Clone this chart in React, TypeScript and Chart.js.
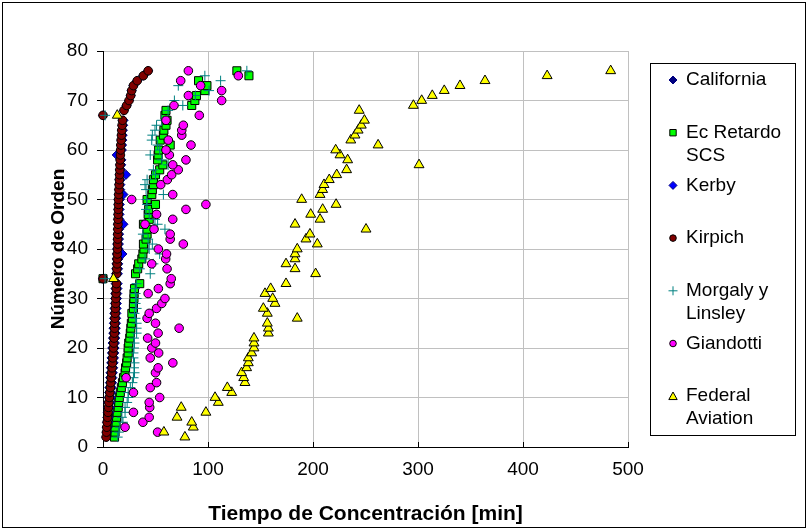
import React, { useEffect, useRef } from "react";
import { Chart, registerables } from "chart.js";

Chart.register(...registerables);

// ---------- DATA ----------
const orden = [
  2, 3, 4, 5, 6, 7, 8, 9, 10, 11, 12, 13, 14, 15, 16, 17, 18, 19, 20, 21, 22, 23, 24, 25, 26,
  27, 28, 29, 30, 31, 32, 33, 34, 35, 36, 37, 38, 39, 40, 41, 42, 43, 44, 45, 46, 47, 48, 49, 50,
  51, 52, 53, 54, 55, 56, 57, 58, 59, 60, 61, 62, 63, 64, 65, 66, 67, 68, 69, 70, 71, 72, 73, 74,
  75, 76,
];

const seriesNames = [
  "California",
  "Ec Retardo SCS",
  "Kerby",
  "Kirpich",
  "Morgaly y Linsley",
  "Giandotti",
  "Federal Aviation",
];

const legendLines = [
  ["California"],
  ["Ec Retardo", "SCS"],
  ["Kerby"],
  ["Kirpich"],
  ["Morgaly y", "Linsley"],
  ["Giandotti"],
  ["Federal", "Aviation"],
];

const xTicks = [0, 100, 200, 300, 400, 500];
const yTicks = [0, 10, 20, 30, 40, 50, 60, 70, 80];

const california = [
  2.5, 2.8, 3.0, 3.3, 3.6, 4.0, 4.3, 4.6, 5.0, 5.3, 5.6, 6.0, 6.3, 6.6, 7.0, 7.3, 7.6, 8.0, 8.3,
  8.6, 9.0, 9.3, 9.5, 9.8, 10.0, 10.3, 10.5, 10.8, 11.0, 11.2, 11.4, 11.6, 0, 11.9, 12.1, 12.3,
  12.5, 12.7, 12.9, 13.0, 13.2, 13.3, 13.5, 13.6, 13.8, 13.9, 14.0, 14.2, 14.3, 14.5, 14.7, 14.9,
  15.1, 15.3, 15.5, 15.7, 15.9, 16.1, 16.3, 16.6, 16.9, 17.2, 17.5, 17.8, 18.2, 0, 19.8, 22.3,
  24.6, 26.2, 27.1, 28.8, 32.4, 38.2, 42.8,
];

const ecRetardo = [
  11, 11.5, 11.5, 12.5, 13, 13.5, 14.5, 15, 15.5, 16.5, 17.5, 18.5, 19.5, 21, 21.5, 22.5, 23, 24,
  24, 24.5, 25.5, 26, 26.5, 27, 28, 27.5, 29, 29, 29.5, 29.5, 30, 35, 0, 31, 33, 34, 37, 38, 39,
  38.5, 41, 42, 42, 38.5, 44, 43, 43.5, 50, 42, 46.5, 47, 48, 48, 50, 54, 57, 52, 52.5, 53, 64,
  54.5, 57.5, 58, 60, 61, 59, 60, 84.5, 87.5, 89, 97, 99, 91, 139, 127.5,
];

const kerby = [
  3.5, 4, 4.5, 5, 5.5, 6, 6.5, 7, 7.5, 8, 8.3, 8.7, 9, 9.4, 9.8, 10.2, 10.5, 10.8, 11.1, 11.4,
  11.7, 12, 12.2, 12.4, 12.6, 12.8, 13, 13.2, 13.4, 13.6, 13.8, 14, 0, 14.2, 14.4, 14.6, 14.8,
  18.5, 15, 15.2, 15.3, 15.4, 15.5, 19.5, 15.7, 15.8, 15.9, 16, 16.1, 19.5, 16.4, 16.6, 16.8, 22,
  17.2, 17.4, 17.6, 13, 18, 18.2, 18.5, 18.8, 19, 19.3, 19.6, 0, 20, 22.5, 24.8, 26.4, 27.3, 29,
  32.6, 38.4, 43,
];

const kirpich = [
  3.0, 3.3, 3.6, 4.0, 4.4, 4.8, 5.2, 5.6, 6.0, 6.5, 7.0, 7.4, 7.8, 8.2, 8.6, 9.0, 9.3, 9.6, 9.9,
  10.2, 10.5, 10.8, 11.0, 11.2, 11.4, 11.6, 11.8, 12.0, 12.2, 12.4, 12.6, 12.8, 0, 13.0, 13.2,
  13.4, 13.5, 13.6, 13.8, 13.9, 14.0, 14.1, 14.2, 14.3, 14.4, 14.5, 14.6, 14.7, 14.8, 15.0, 15.2,
  15.4, 15.6, 15.8, 16.0, 16.2, 16.4, 16.6, 16.8, 17.0, 17.3, 17.6, 17.9, 18.2, 18.6, 0, 20.0,
  22.5, 24.8, 26.4, 27.3, 29.0, 32.6, 38.4, 43.0,
];

const morgaly = [
  14, 15, 16, 19, 18, 21, 21, 23, 24, 24, 26, 28, 29, 30, 29.5, 30, 29, 29, 29.5, 30, 29.5, 32,
  32, 32, 31, 30, 32, 31, 32, 31, 30.5, 32, 2, 45, 35, 48, 40, 54, 44, 47, 43, 38, 59, 52, 49.5,
  44, 41, 42, 41.5, 57.5, 41, 40, 42, 50, 48, 62, 56, 45, 54, 52, 46.4, 47, 49.5, 51, 56, 2, 62,
  76, 68, 88, 101, 71.7, 112, 97, 137,
];

const giandotti = [
  null, 52, 21, 38, 44, 29, 44.5, 44, 54, 29, 45, 51, 22, 50, 52.5, 66.5, 45, 53, 46.5, 50, 42.5,
  52.5, 72.5, 50, 42, 44, 51, 56, 59, 43, 52.7, 64, 65, null, 61, 46.4, 59.7, 60.5, 52.7, 76.5,
  64, 64, 48.6, 40, 66.4, 51, 79, 98, 27.3, 66.4, null, 55, 61.3, 65.4, 71.7, 66.4, 79, 63.2, 60,
  83.8, 62.2, 75, 75, 76.5, 60, 91.7, null, 67.6, 113, 81.3, 113, 93, 74, 128.9, 81.3,
];

const federal = [
  78, 58, 86, 84.5, 70.5, 98, 74.5, 109.8, 106.7, 122.6, 118.4, 135.2, 134, 132, 136.8, 138.4,
  138.4, 141.6, 143.8, 143.8, 143.8, 157.5, 157.5, 156.5, 185, 156.5, 152.7, 163.8, 161.6, 154.3,
  159.7, 174.3, 10, 202.5, 182.9, 174.3, 182.9, 182.9, 185, 204.1, 193.3, 197.1, 250.5, 182.9,
  206.7, 197.8, 209.2, 222, 189.2, 206.7, 209.2, 210.5, 215.5, 222.6, 232, 301, 233, 225.7, 221.6,
  262, 236, 240, 243, 246, 249, 13.6, 244, 295.6, 303.5, 313.6, 325, 340, 363.8, 423, 483.5,
];

const seriesValues = [california, ecRetardo, kerby, kirpich, morgaly, giandotti, federal];

// ---------- STYLES ----------
const FONT = "'Liberation Sans', Arial, sans-serif";

const markerStyles = [
  { style: "rectRot", r: 4, bg: "#000080", border: "#000080", lr: 4 },
  { style: "rect", r: 5.7, bg: "#00FF00", border: "#000000", lr: 3.2 },
  { style: "rectRot", r: 4.5, bg: "#0000FF", border: "#000080", lr: 4 },
  { style: "circle", r: 4.3, bg: "#800000", border: "#000000", lr: 3.3 },
  { style: "cross", r: 5, bg: "#008080", border: "#008080", lr: 4.5 },
  { style: "circle", r: 4.3, bg: "#FF00FF", border: "#000000", lr: 3.3 },
  { style: "triangle", r: 5.7, bg: "#FFFF00", border: "#000000", lr: 4.2 },
];

function drawMarker(
  ctx: CanvasRenderingContext2D,
  style: string,
  x: number,
  y: number,
  r: number,
  fill: string,
  stroke: string
) {
  ctx.save();
  ctx.beginPath();
  ctx.lineWidth = 1;
  ctx.strokeStyle = stroke;
  ctx.fillStyle = fill;
  if (style === "circle") {
    ctx.arc(x, y, r, 0, Math.PI * 2);
  } else if (style === "rect") {
    ctx.rect(x - r, y - r, 2 * r, 2 * r);
  } else if (style === "rectRot") {
    ctx.moveTo(x, y - r);
    ctx.lineTo(x + r, y);
    ctx.lineTo(x, y + r);
    ctx.lineTo(x - r, y);
    ctx.closePath();
  } else if (style === "triangle") {
    ctx.moveTo(x, y - r);
    ctx.lineTo(x + r, y + r * 0.8);
    ctx.lineTo(x - r, y + r * 0.8);
    ctx.closePath();
  } else if (style === "cross") {
    ctx.moveTo(x - r, y);
    ctx.lineTo(x + r, y);
    ctx.moveTo(x, y - r);
    ctx.lineTo(x, y + r);
    ctx.stroke();
    ctx.restore();
    return;
  }
  ctx.fill();
  ctx.stroke();
  ctx.restore();
}

const decorPlugin = {
  id: "decor",
  afterDraw(chart: any) {
    const ctx: CanvasRenderingContext2D = chart.ctx;
    const xs = chart.scales.x;
    const area = chart.chartArea;
    ctx.save();
    // inside tick marks on x axis
    ctx.strokeStyle = "#000";
    ctx.lineWidth = 1;
    xTicks.forEach((v) => {
      if (v === 0) return;
      const px = Math.round(xs.getPixelForValue(v)) + 0.5;
      ctx.beginPath();
      ctx.moveTo(px, area.bottom);
      ctx.lineTo(px, area.bottom - 5);
      ctx.stroke();
    });
    // outer frame
    ctx.strokeStyle = "#000";
    ctx.strokeRect(2.5, 2.5, 803, 525);
    // legend box
    ctx.strokeRect(650.5, 63.5, 145, 372);
    ctx.font = `19px ${FONT}`;
    ctx.fillStyle = "#000";
    ctx.textBaseline = "middle";
    ctx.textAlign = "left";
    legendLines.forEach((lines, i) => {
      const y0 = 80 + i * 52.7;
      const m = markerStyles[i];
      drawMarker(ctx, m.style, 673, y0, m.lr, m.bg, m.border);
      lines.forEach((t, j) => {
        ctx.fillStyle = "#000";
        ctx.fillText(t, 686, y0 + j * 23);
      });
    });
    ctx.restore();
  },
};

export default function App() {
  const ref = useRef<HTMLCanvasElement | null>(null);

  useEffect(() => {
    document.body.style.margin = "0";
    const canvas = ref.current;
    if (!canvas) return;

    const datasets = seriesValues.map((vals, i) => {
      const m = markerStyles[i];
      return {
        label: seriesNames[i],
        data: orden
          .map((y, k) => ({ x: vals[k], y }))
          .filter((p) => p.x !== null && p.x !== undefined),
        pointStyle: m.style,
        pointRadius: m.r,
        pointHoverRadius: m.r,
        pointBackgroundColor: m.bg,
        pointBorderColor: m.border,
        pointBorderWidth: 1,
        backgroundColor: m.bg,
        borderColor: m.border,
        showLine: false,
        order: seriesNames.length - i,
        clip: false as const,
      };
    });

    const chart = new Chart(canvas, {
      type: "scatter",
      data: { datasets: datasets as any },
      options: {
        animation: false,
        responsive: false,
        maintainAspectRatio: false,
        events: [],
        layout: { padding: { left: 0, top: 51, right: 181, bottom: 0 } },
        plugins: {
          legend: { display: false },
          tooltip: { enabled: false },
        },
        scales: {
          x: {
            type: "linear",
            min: 0,
            max: 500,
            afterFit: (s: any) => {
              s.height = 84;
            },
            afterBuildTicks: (s: any) => {
              s.ticks = xTicks.map((v) => ({ value: v }));
            },
            ticks: {
              color: "#000",
              font: { family: FONT, size: 19 },
              padding: 11,
            },
            grid: { color: "#c0c0c0", drawTicks: false, lineWidth: 1 },
            border: { color: "#000", width: 1 },
            title: {
              display: true,
              text: "Tiempo de Concentración [min]",
              color: "#000",
              font: { family: FONT, size: 21, weight: "bold" },
              padding: { top: 0, bottom: 4 },
            },
          },
          y: {
            type: "linear",
            min: 0,
            max: 80,
            afterFit: (s: any) => {
              s.width = 103;
            },
            afterBuildTicks: (s: any) => {
              s.ticks = yTicks.map((v) => ({ value: v }));
            },
            ticks: {
              color: "#000",
              font: { family: FONT, size: 19 },
              padding: 9,
            },
            grid: { color: "#c0c0c0", tickLength: 6, tickColor: "#000", lineWidth: 1 },
            border: { color: "#000", width: 1 },
            title: {
              display: true,
              text: "Número de Orden",
              color: "#000",
              font: { family: FONT, size: 19, weight: "bold" },
              padding: { top: 47, bottom: 0 },
            },
          },
        },
      },
      plugins: [decorPlugin],
    });

    return () => chart.destroy();
  }, []);

  return (
    <div style={{ width: 809, height: 531, background: "#fff" }}>
      <canvas ref={ref} width={809} height={531} style={{ display: "block" }} />
    </div>
  );
}
